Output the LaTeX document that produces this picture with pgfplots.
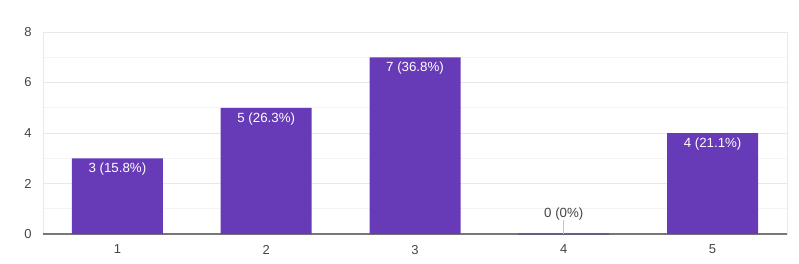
\documentclass[border=0pt]{standalone}
\usepackage{pgfplots}
\pgfplotsset{compat=1.18}
\usepackage{fontspec}
\setmainfont{Liberation Sans}
\definecolor{barc}{HTML}{673AB7}
\definecolor{gridmaj}{HTML}{E8E8E8}
\definecolor{gridmin}{HTML}{F4F4F4}
\definecolor{axisc}{HTML}{777777}
\definecolor{txt}{HTML}{444444}
\definecolor{zeroc}{HTML}{665E7E}
\definecolor{stemc}{HTML}{C4C4C4}
\begin{document}
\begin{tikzpicture}
\path[use as bounding box] (0,0) rectangle (799bp,264bp);
\begin{axis}[
 at={(43bp,30bp)}, anchor=south west,
 scale only axis, width=744bp, height=202bp,
 xmin=0.5, xmax=5.5, ymin=0, ymax=8,
 xtick={1,...,5}, ytick={0,2,...,8},
 minor y tick num=1,
 ymajorgrids, yminorgrids,
 major grid style={gridmaj, line width=0.8bp},
 minor grid style={gridmin, line width=0.8bp},
 axis line style={gridmaj, line width=0.8bp},
 major tick length=0pt, minor tick length=0pt,
 tick label style={font=\fontsize{13bp}{15bp}\selectfont, text=txt},
 yticklabel style={xshift=-8bp},
 xticklabel style={yshift=-7.5bp},
 /pgf/number format/assume math mode=true,
 extra y ticks={0}, extra y tick labels={},
 extra y tick style={major grid style={axisc, line width=1.6bp}},
 clip=false,
]
\addplot[ybar, bar width=91bp, fill=barc, draw=none,
  point meta=explicit symbolic, nodes near coords,
  nodes near coords align={below},
  every node near coord/.append style={text=white, yshift=-1.5bp, font=\fontsize{13.3bp}{15bp}\selectfont}]
  coordinates {(1,3)[3 (15.8\%)] (2,5)[5 (26.3\%)] (3,7)[7 (36.8\%)] (5,4)[4 (21.1\%)]};
\addplot[zeroc, line width=1.6bp, forget plot] coordinates {(3.695,0) (4.305,0)};
\addplot[stemc, line width=1bp, forget plot] coordinates {(4,0) (4,0.55)};
\addplot[draw=none, mark=none,
  point meta=explicit symbolic, nodes near coords,
  nodes near coords align={above},
  every node near coord/.append style={text=txt, font=\fontsize{13.3bp}{15bp}\selectfont}]
  coordinates {(4,0.4)[0 (0\%)]};
\end{axis}
\end{tikzpicture}
\end{document}
